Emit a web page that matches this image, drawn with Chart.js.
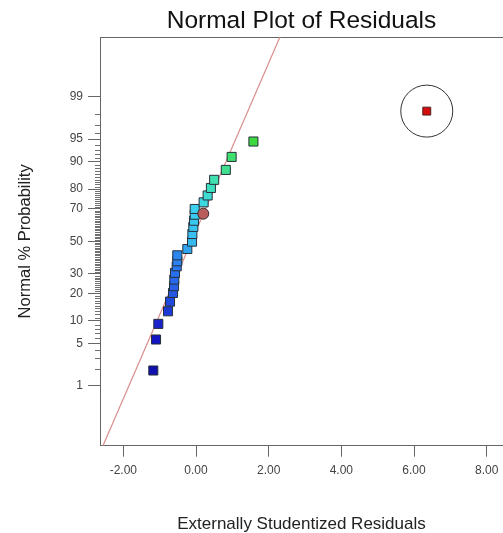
<!DOCTYPE html>
<html>
<head>
<meta charset="utf-8">
<script src="https://cdn.jsdelivr.net/npm/chart.js@4/dist/chart.umd.min.js"></script>
<style>
  html, body { margin: 0; padding: 0; background: #fff; overflow: hidden; }
  #wrap { width: 503px; height: 533px; position: relative; }
</style>
</head>
<body>
<div id="wrap"><canvas id="plot"></canvas></div>
<script>
// residuals (x) and normal % probability (y)
var squareResid = [-1.175, -1.10, -1.037, -0.77, -0.715, -0.633, -0.605, -0.597, -0.578, -0.531,
                   -0.515, -0.515, -0.239, -0.11, -0.10, -0.074, -0.055, -0.036, -0.036,
                   0.21, 0.32, 0.41, 0.50, 0.82, 0.98, 1.58];
var squareProb  = [1.88, 5.7, 9.2, 13.0, 16.6, 20.3, 23.5, 26.9, 30.6, 34.4,
                   37.4, 41.1, 45.1, 49.8, 54.7, 59.2, 63.0, 66.6, 69.9,
                   73.5, 77.0, 80.5, 83.9, 87.5, 91.3, 94.6];
var circleResid = [0.20];
var circleProb  = [67.2];
var outlierResid = [6.35];
var outlierProb  = [98.2];

// reference line x = fitMean + fitSd * z
var fitMean = -0.125;
var fitSd = 0.740;

var xTicks = [-2, 0, 2, 4, 6, 8];
var probTicks = [1, 5, 10, 20, 30, 50, 70, 80, 90, 95, 99];

var squareColors = ['#1010b0', '#1414c4', '#1a22cc', '#1e3ad6', '#2048dc', '#2458e2', '#2660e6',
  '#2868ea', '#2870ee', '#2a78f0', '#2c80f0', '#2c86f0', '#30a4ee', '#34b8ee', '#38c0f0',
  '#38c4f0', '#38c8f0', '#3accf0', '#3cd0f0', '#3cd8e0', '#3cdcd0', '#3ee0c0', '#40e0b0',
  '#40e090', '#40e070', '#40d840'];

// inverse normal cdf (Acklam)
function probit(p) {
  var a = [-39.69683028665376, 220.9460984245205, -275.9285104469687, 138.3577518672690, -30.66479806614716, 2.506628277459239];
  var b = [-54.47609879822406, 161.5858368580409, -155.6989798598866, 66.80131188771972, -13.28068155288572];
  var c = [-0.007784894002430293, -0.3223964580411365, -2.400758277161838, -2.549732539343734, 4.374664141464968, 2.938163982698783];
  var d = [0.007784695709041462, 0.3224671290700398, 2.445134137142996, 3.754408661907416];
  var q, r;
  if (p < 0.02425) {
    q = Math.sqrt(-2 * Math.log(p));
    return (((((c[0]*q+c[1])*q+c[2])*q+c[3])*q+c[4])*q+c[5]) / ((((d[0]*q+d[1])*q+d[2])*q+d[3])*q+1);
  }
  if (p > 1 - 0.02425) {
    q = Math.sqrt(-2 * Math.log(1 - p));
    return -(((((c[0]*q+c[1])*q+c[2])*q+c[3])*q+c[4])*q+c[5]) / ((((d[0]*q+d[1])*q+d[2])*q+d[3])*q+1);
  }
  q = p - 0.5; r = q * q;
  return (((((a[0]*r+a[1])*r+a[2])*r+a[3])*r+a[4])*r+a[5])*q / (((((b[0]*r+b[1])*r+b[2])*r+b[3])*r+b[4])*r+1);
}

function toPoints(xs, ps) {
  return xs.map(function (x, i) { return { x: x, y: probit(ps[i] / 100) }; });
}

var zMin = -3.29, zMax = 3.29;
var xMin = -2.642, xMax = 8.448;
var lineData = [zMin - 0.1, zMax + 0.1].map(function (z) { return { x: fitMean + fitSd * z, y: z }; });

Chart.defaults.font.family = 'Arial, "Liberation Sans", sans-serif';

function noPad(s) { s.paddingLeft = 0; s.paddingRight = 0; s.paddingTop = 0; s.paddingBottom = 0; }

// short ticks at every whole percent on the probability axis
var minorTicks = {
  id: 'minorTicks',
  afterDraw: function (chart) {
    var ctx = chart.ctx, ys = chart.scales.y, left = chart.chartArea.left;
    ctx.save();
    ctx.strokeStyle = '#707070';
    ctx.lineWidth = 1;
    ctx.beginPath();
    for (var p = 1; p <= 99; p++) {
      if (probTicks.indexOf(p) >= 0) continue;
      var y = Math.round(ys.getPixelForValue(probit(p / 100))) + 0.5;
      ctx.moveTo(left - 5, y);
      ctx.lineTo(left, y);
    }
    ctx.stroke();
    ctx.restore();
  }
};

new Chart(document.getElementById('plot'), {
  type: 'scatter',
  data: {
    datasets: [
      {
        data: lineData, showLine: true, pointRadius: 0,
        borderColor: '#d98c8c', borderWidth: 1.2, order: 5
      },
      {
        data: toPoints(squareResid, squareProb), pointStyle: 'rect', pointRadius: 6.4,
        backgroundColor: squareColors, borderColor: '#26303a', borderWidth: 1, order: 2
      },
      {
        data: toPoints(circleResid, circleProb), pointStyle: 'circle', pointRadius: 5.5,
        backgroundColor: '#b85c5c', borderColor: '#3a2a2a', borderWidth: 1, order: 1
      },
      {
        data: toPoints(outlierResid, outlierProb), pointStyle: 'rect', pointRadius: 5.6,
        backgroundColor: '#d40c0c', borderColor: '#502020', borderWidth: 1, order: 1
      },
      {
        data: toPoints(outlierResid, outlierProb), pointStyle: 'circle', pointRadius: 26,
        backgroundColor: 'rgba(0,0,0,0)', borderColor: '#333', borderWidth: 1, order: 3
      }
    ]
  },
  options: {
    responsive: true,
    maintainAspectRatio: false,
    animation: false,
    layout: { padding: 0, autoPadding: false },
    plugins: { legend: { display: false }, tooltip: { enabled: false } },
    scales: {
      x: {
        type: 'linear', position: 'bottom', min: xMin, max: xMax,
        afterBuildTicks: function (s) { s.ticks = xTicks.map(function (v) { return { value: v }; }); },
        afterFit: function (s) { s.height = 87.3; noPad(s); },
        ticks: {
          callback: function (v) { return v.toFixed(2); },
          font: { size: 12 }, color: '#444', padding: 7, autoSkip: false, maxRotation: 0
        },
        grid: { drawOnChartArea: false, tickLength: 11, color: '#666' },
        border: { color: '#666' },
        title: {
          display: true, text: 'Externally Studentized Residuals', color: '#222',
          font: { size: 17, lineHeight: 1 }, padding: { top: 0, bottom: 0.6 }
        }
      },
      top: {
        type: 'linear', position: 'top', min: xMin, max: xMax,
        afterFit: function (s) { s.height = 37; noPad(s); },
        ticks: { display: false },
        grid: { display: false, drawTicks: false },
        border: { display: true, color: '#666' },
        title: {
          display: true, text: 'Normal Plot of Residuals', color: '#111',
          font: { size: 24.5, lineHeight: 1 }, padding: { top: 9, bottom: 0 }
        }
      },
      y: {
        type: 'linear', position: 'left', min: zMin, max: zMax,
        afterBuildTicks: function (s) { s.ticks = probTicks.map(function (p) { return { value: probit(p / 100) }; }); },
        afterFit: function (s) { s.width = 100; noPad(s); },
        ticks: {
          callback: function (v, i) { return String(probTicks[i]); },
          font: { size: 12 }, color: '#444', padding: 5, autoSkip: false
        },
        grid: { drawOnChartArea: false, tickLength: 12, color: '#666' },
        border: { color: '#666' },
        title: {
          display: true, text: 'Normal % Probability', color: '#222',
          font: { size: 16.5, lineHeight: 1 }, padding: { top: 17, bottom: 0 }
        }
      }
    }
  },
  plugins: [minorTicks]
});
</script>
</body>
</html>
